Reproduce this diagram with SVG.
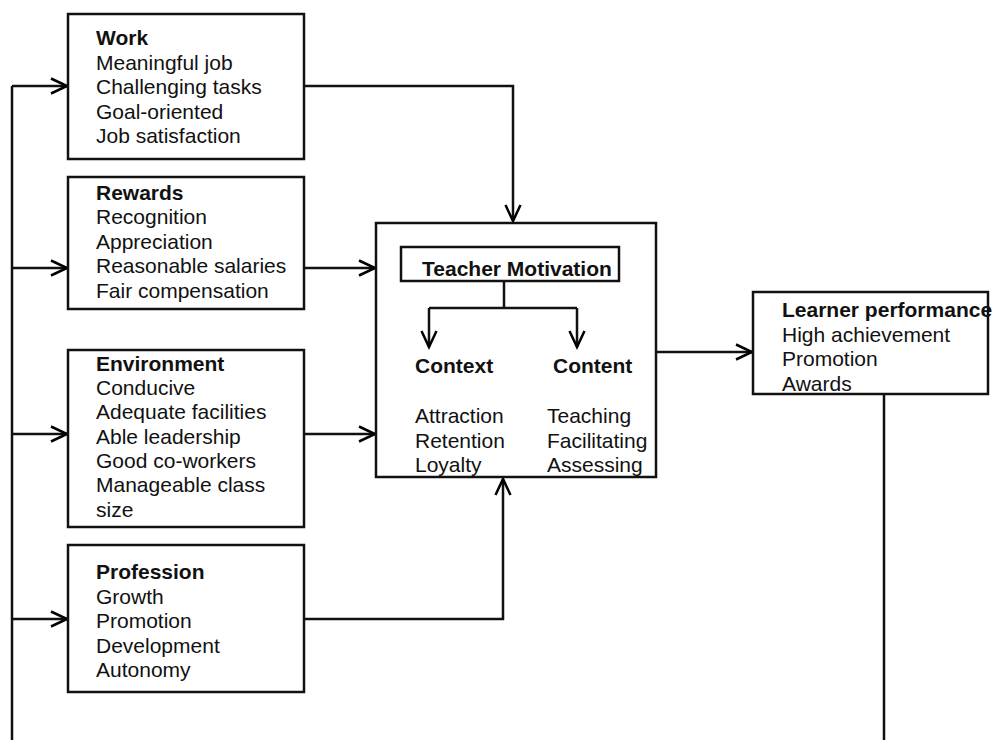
<svg xmlns="http://www.w3.org/2000/svg" width="995" height="740" viewBox="0 0 995 740">
<defs>
<marker id="arr" markerUnits="userSpaceOnUse" markerWidth="20" markerHeight="20" refX="16" refY="8" orient="auto" overflow="visible">
<path d="M0,0.5 L16,8 L0,15.5" fill="none" stroke="#000" stroke-width="2.5"/>
</marker>
<style>
.box{fill:#fff;stroke:#111;stroke-width:2.5}
.ln{fill:none;stroke:#111;stroke-width:2.5}
text{font-family:"Liberation Sans",Arial,sans-serif;font-size:21px;fill:#111}
.b{font-weight:bold}
</style>
</defs>
<rect width="995" height="740" fill="#fff"/>
<g id="connectors">
<path class="ln" d="M12,740 L12,86"/>
<path class="ln" d="M12,86 L67,86" marker-end="url(#arr)"/>
<path class="ln" d="M12,268 L67,268" marker-end="url(#arr)"/>
<path class="ln" d="M12,434 L67,434" marker-end="url(#arr)"/>
<path class="ln" d="M12,619 L67,619" marker-end="url(#arr)"/>
<path class="ln" d="M304,86 L513,86 L513,221" marker-end="url(#arr)"/>
<path class="ln" d="M304,268 L375,268" marker-end="url(#arr)"/>
<path class="ln" d="M304,434 L375,434" marker-end="url(#arr)"/>
<path class="ln" d="M304,619 L503,619 L503,479" marker-end="url(#arr)"/>
<path class="ln" d="M656,352 L752,352" marker-end="url(#arr)"/>
<path class="ln" d="M884,394 L884,740"/>
</g>
<g id="work">
<rect class="box" x="68" y="14" width="236" height="145"/>
<text x="96" y="45" class="b">Work</text>
<text x="96" y="69.5">Meaningful job</text>
<text x="96" y="94">Challenging tasks</text>
<text x="96" y="118.5">Goal-oriented</text>
<text x="96" y="143">Job satisfaction</text>
</g>
<g id="rewards">
<rect class="box" x="68" y="177" width="236" height="132"/>
<text x="96" y="199.5" class="b">Rewards</text>
<text x="96" y="224">Recognition</text>
<text x="96" y="248.5">Appreciation</text>
<text x="96" y="273">Reasonable salaries</text>
<text x="96" y="297.5">Fair compensation</text>
</g>
<g id="environment">
<rect class="box" x="68" y="350" width="236" height="177"/>
<text x="96" y="370.5" class="b">Environment</text>
<text x="96" y="395">Conducive</text>
<text x="96" y="419.3">Adequate facilities</text>
<text x="96" y="443.7">Able leadership</text>
<text x="96" y="468">Good co-workers</text>
<text x="96" y="492.4">Manageable class</text>
<text x="96" y="516.7">size</text>
</g>
<g id="profession">
<rect class="box" x="68" y="545" width="236" height="147"/>
<text x="96" y="579.3" class="b">Profession</text>
<text x="96" y="603.8">Growth</text>
<text x="96" y="628.3">Promotion</text>
<text x="96" y="652.8">Development</text>
<text x="96" y="677.3">Autonomy</text>
</g>
<g id="teacher-motivation">
<rect class="box" x="376" y="223" width="280" height="254"/>
<rect class="box" x="401" y="247" width="218" height="34"/>
<text x="422" y="276" class="b">Teacher Motivation</text>
<path class="ln" d="M504,281 L504,308 M429,308 L577,308"/>
<path class="ln" d="M429,308 L429,347" marker-end="url(#arr)"/>
<path class="ln" d="M577,308 L577,347" marker-end="url(#arr)"/>
<text x="415" y="373" class="b">Context</text>
<text x="553" y="373" class="b">Content</text>
<text x="415" y="423.3">Attraction</text>
<text x="415" y="447.5">Retention</text>
<text x="415" y="471.7">Loyalty</text>
<text x="547" y="423.3">Teaching</text>
<text x="547" y="447.5">Facilitating</text>
<text x="547" y="471.7">Assessing</text>
</g>
<g id="learner-performance">
<rect class="box" x="753" y="292" width="235" height="102"/>
<text x="782" y="317" class="b">Learner performance</text>
<text x="782" y="341.5">High achievement</text>
<text x="782" y="366">Promotion</text>
<text x="782" y="390.5">Awards</text>
</g>
</svg>
